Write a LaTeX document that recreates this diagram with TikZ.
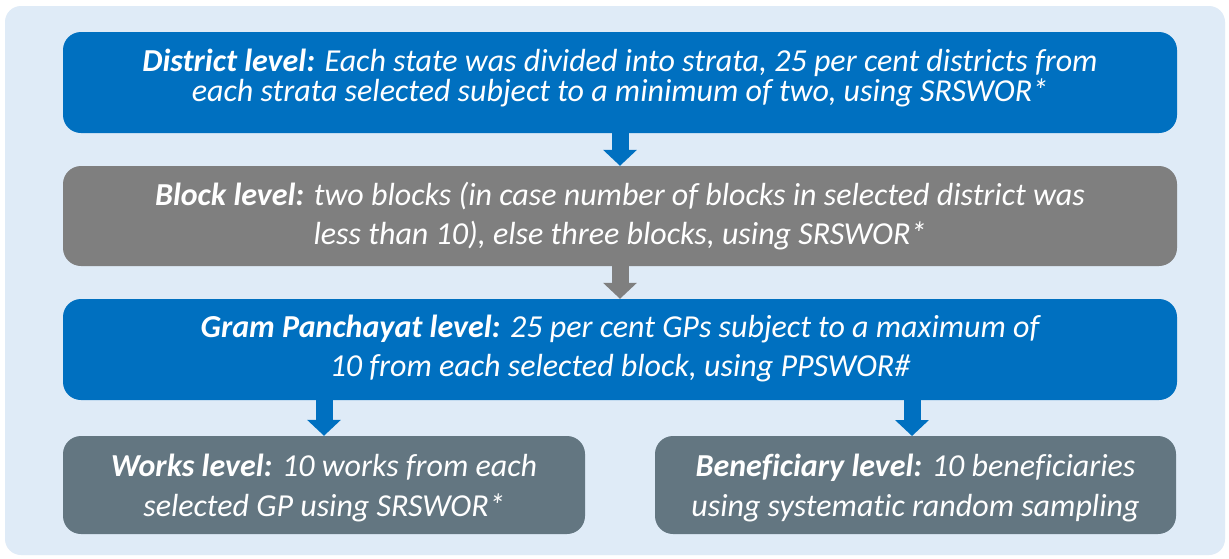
\documentclass[tikz,border=0pt]{standalone}
\usepackage{fontspec}
\setmainfont{Carlito}[Ligatures=NoCommon]
\usetikzlibrary{arrows.meta}
\definecolor{bgblue}{HTML}{DFEBF7}
\definecolor{boxblue}{HTML}{0070C0}
\definecolor{boxgray}{HTML}{7F7F7F}
\definecolor{boxslate}{HTML}{637681}
\tikzset{
  stage/.style={rounded corners=18pt, inner sep=0pt},
  stagetext/.style={inner sep=0pt, text=white, align=center},
  fsmall/.style={font=\itshape\fontsize{32}{30}\selectfont},
  fbig/.style={font=\itshape\fontsize{32}{39.5}\selectfont},
  flowarr/.style={line width=17pt, -{Triangle[width=33pt,length=16pt]}},
}
\begin{document}
\begin{tikzpicture}[x=1pt,y=-1pt]
\useasboundingbox (0,0) rectangle (1229,558);
\fill[white] (0,0) rectangle (1229,558);
\fill[bgblue, rounded corners=16pt] (5,6) rectangle (1225,555);

\node[stage, fill=boxblue, minimum width=1114pt, minimum height=101pt] (d) at (620,82.5) {};
\node[stagetext, fsmall] (dt) at ([yshift=4pt]d.center)
 {\textbf{District level:} Each state was divided into strata, 25 per cent districts from\\
 each strata selected subject to a minimum of two, using SRSWOR*};
\node[stage, fill=boxgray, minimum width=1114pt, minimum height=100pt] (b) at (620,216) {};
\node[stagetext, fbig] (bt) at (b.center)
 {\textbf{Block level:} two blocks (in case number of blocks in selected district was\\
 less than 10), else three blocks, using SRSWOR*};
\node[stage, fill=boxblue, minimum width=1114pt, minimum height=101pt] (g) at (620,349.5) {};
\node[stagetext, fbig] (gt) at ([yshift=1pt]g.center)
 {\textbf{Gram Panchayat level:} 25 per cent GPs subject to a maximum of\\
 10 from each selected block, using PPSWOR\#};
\node[stage, fill=boxslate, minimum width=522pt, minimum height=98pt] (w) at (324,485) {};
\node[stagetext, fbig] (wt) at ([yshift=-3pt]w.center)
 {\textbf{Works level:} 10 works from each\\
 selected GP using SRSWOR*};
\node[stage, fill=boxslate, minimum width=521pt, minimum height=98pt] (e) at (915.5,485) {};
\node[stagetext, fbig] (et) at ([yshift=-3pt]e.center)
 {\textbf{Beneficiary level:} 10 beneficiaries\\
 using systematic random sampling};

\draw[flowarr, boxblue] (d.south) -- (b.north);
\draw[flowarr, boxgray] (b.south) -- (g.north);
\draw[flowarr, boxblue] (g.south -| w.north) -- (w.north);
\draw[flowarr, boxblue] (g.south -| 912,0) -- (912,436);
\end{tikzpicture}
\end{document}
